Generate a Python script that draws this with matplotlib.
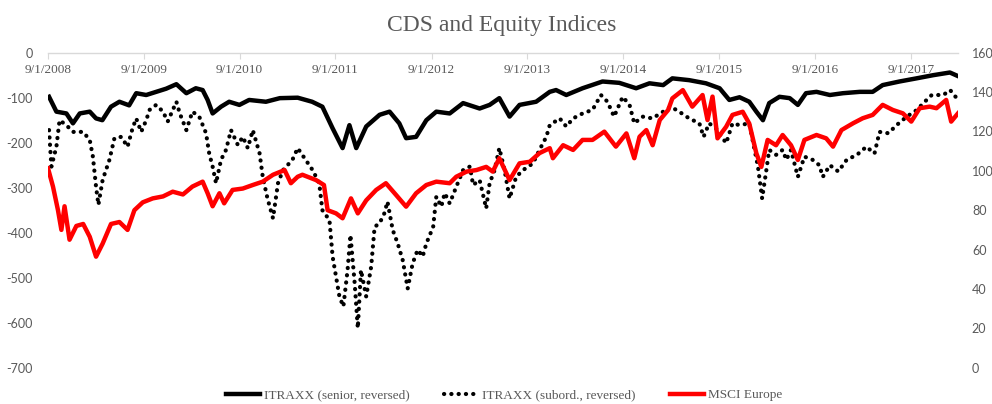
import matplotlib
matplotlib.use("Agg")
import matplotlib.pyplot as plt
import pandas as pd

plt.rcParams["axes.unicode_minus"] = False

senior_dates = ["2008-09-05","2008-10-03","2008-11-10","2008-12-05","2008-12-31","2009-02-07","2009-03-03",
    "2009-03-27","2009-04-29","2009-05-31","2009-07-07","2009-08-03","2009-09-10","2009-10-18","2009-11-25",
    "2010-01-03","2010-02-10","2010-03-18","2010-04-13","2010-05-02","2010-05-21","2010-06-22","2010-07-23",
    "2010-08-31","2010-10-07","2010-12-10","2011-02-01","2011-04-10","2011-06-04","2011-07-13","2011-08-21",
    "2011-09-28","2011-10-24","2011-11-19","2011-12-27","2012-02-16","2012-03-25","2012-05-01","2012-05-27",
    "2012-07-04","2012-08-12","2012-09-19","2012-11-09","2012-12-30","2013-03-03","2013-04-10","2013-05-17",
    "2013-06-25","2013-08-02","2013-10-04","2013-11-25","2013-12-19","2014-01-27","2014-03-30","2014-06-14",
    "2014-08-17","2014-10-20","2014-12-10","2015-01-31","2015-03-07","2015-05-10","2015-07-13","2015-09-03",
    "2015-10-10","2015-11-18","2015-12-25","2016-01-21","2016-02-15","2016-03-10","2016-04-18","2016-05-27",
    "2016-06-27","2016-07-28","2016-09-06","2016-10-27","2016-12-16","2017-02-18","2017-04-08","2017-05-16",
    "2017-07-19","2017-09-22","2017-11-24","2018-01-27","2018-02-27"]
senior_values = [-98,-131,-135,-157,-135,-131,-146,-150,-120,-109,-117,-90,-94,-87,-80,
    -70,-90,-79,-83,-105,-135,-120,-109,-116,-105,-109,-101,-100,-109,-120,-168,
    -212,-161,-212,-164,-138,-131,-157,-190,-187,-150,-131,-135,-112,-124,-116,-101,
    -142,-116,-109,-87,-83,-94,-79,-64,-67,-79,-68,-72,-57,-61,-68,-79,
    -105,-99,-109,-131,-150,-112,-98,-101,-116,-90,-87,-94,-90,-87,-87,-72,
    -64,-57,-50,-44,-52]

subord_dates = ["2008-09-05","2008-09-14","2008-10-03","2008-10-15","2008-11-10","2008-12-05","2009-01-13",
    "2009-02-07","2009-02-19","2009-03-03","2009-03-12","2009-03-28","2009-04-23","2009-05-12","2009-06-07",
    "2009-07-01","2009-07-20","2009-08-03","2009-08-22","2009-09-10","2009-09-23","2009-10-18","2009-11-13",
    "2009-12-01","2010-01-03","2010-01-16","2010-02-10","2010-03-05","2010-03-31","2010-04-26","2010-05-08",
    "2010-05-21","2010-06-03","2010-06-22","2010-07-11","2010-07-30","2010-08-25","2010-09-13","2010-10-02",
    "2010-10-21","2010-11-16","2010-11-28","2010-12-16","2011-01-06","2011-01-25","2011-02-13","2011-03-21",
    "2011-04-10","2011-05-10","2011-06-06","2011-07-01","2011-07-13","2011-08-09","2011-08-21","2011-09-03",
    "2011-09-16","2011-10-01","2011-10-17","2011-10-28","2011-11-13","2011-11-25","2011-12-07","2011-12-27",
    "2012-01-15","2012-01-28","2012-02-16","2012-03-05","2012-03-17","2012-04-06","2012-04-25","2012-05-14",
    "2012-06-02","2012-06-21","2012-07-10","2012-07-29","2012-08-12","2012-09-07","2012-09-19","2012-10-08",
    "2012-10-21","2012-11-09","2012-12-04","2012-12-30","2013-01-25","2013-02-06","2013-03-03","2013-03-28",
    "2013-04-10","2013-04-29","2013-05-17","2013-06-06","2013-06-25","2013-07-20","2013-08-15","2013-09-22",
    "2013-10-17","2013-11-12","2013-11-25","2014-01-02","2014-01-27","2014-02-22","2014-03-30","2014-05-07",
    "2014-06-08","2014-07-03","2014-07-28","2014-08-30","2014-09-25","2014-10-13","2014-11-13","2014-12-21",
    "2015-01-31","2015-03-01","2015-04-02","2015-05-10","2015-06-18","2015-07-04","2015-07-25","2015-08-20",
    "2015-09-28","2015-10-22","2015-11-18","2015-12-25","2016-01-27","2016-02-12","2016-02-28","2016-03-10",
    "2016-04-05","2016-04-30","2016-05-14","2016-06-01","2016-06-27","2016-07-22","2016-08-22","2016-09-17",
    "2016-09-30","2016-10-27","2016-11-28","2016-12-30","2017-02-07","2017-03-15","2017-04-15","2017-05-04",
    "2017-06-07","2017-07-08","2017-08-16","2017-09-24","2017-10-18","2017-11-19","2018-01-02","2018-01-28",
    "2018-02-22"]
subord_values = [-172,-253,-209,-150,-161,-176,-176,
    -194,-231,-298,-338,-283,-238,-190,-187,
    -209,-168,-146,-176,-150,-127,-116,-131,
    -153,-109,-135,-172,-131,-142,-179,-224,
    -253,-290,-238,-216,-172,-205,-187,-212,
    -172,-224,-276,-324,-368,-290,-261,-238,
    -212,-238,-261,-290,-350,-372,-453,-498,
    -542,-564,-483,-405,-512,-612,-483,-542,
    -475,-387,-379,-357,-331,-394,-424,-461,
    -524,-468,-438,-453,-424,-387,-320,-342,
    -312,-335,-298,-261,-253,-294,-283,-346,
    -290,-261,-212,-261,-324,-276,-261,-246,
    -216,-187,-161,-146,-164,-146,-135,-127,
    -94,-109,-142,-98,-116,-157,-142,-146,
    -131,-120,-131,-146,-157,-187,-157,-168,
    -201,-157,-161,-157,-253,-324,-261,-216,
    -227,-216,-238,-216,-276,-231,-238,-250,
    -276,-250,-264,-238,-227,-209,-224,-176,
    -179,-161,-142,-127,-112,-94,-94,-83,
    -101]

msci_dates = ["2008-09-01","2008-09-20","2008-10-09","2008-10-22","2008-11-03","2008-11-22","2008-12-18",
    "2009-01-13","2009-02-07","2009-03-03","2009-03-28","2009-04-29","2009-05-31","2009-07-01","2009-07-27",
    "2009-08-28","2009-10-05","2009-11-13","2009-12-20","2010-01-28","2010-03-05","2010-04-13","2010-05-02",
    "2010-05-21","2010-06-16","2010-07-04","2010-08-05","2010-09-13","2010-10-21","2010-11-28","2011-01-06",
    "2011-02-19","2011-03-15","2011-04-10","2011-04-28","2011-06-19","2011-07-19","2011-08-02","2011-09-03",
    "2011-09-28","2011-10-30","2011-11-25","2011-12-27","2012-02-03","2012-03-11","2012-04-19","2012-05-27",
    "2012-07-04","2012-08-12","2012-09-19","2012-11-09","2012-12-04","2013-01-12","2013-02-19","2013-03-28",
    "2013-04-22","2013-05-17","2013-06-25","2013-08-02","2013-09-10","2013-10-17","2013-11-25","2013-12-07",
    "2014-01-15","2014-02-22","2014-03-30","2014-05-07","2014-06-21","2014-08-04","2014-09-13","2014-10-13",
    "2014-11-02","2014-11-28","2014-12-22","2015-01-18","2015-02-19","2015-03-07","2015-04-16","2015-05-22",
    "2015-06-30","2015-07-19","2015-08-07","2015-08-26","2015-09-28","2015-10-22","2015-11-30","2015-12-25",
    "2016-01-21","2016-02-09","2016-03-04","2016-04-05","2016-04-30","2016-06-01","2016-06-27","2016-07-22",
    "2016-09-06","2016-10-13","2016-11-08","2016-12-10","2017-01-24","2017-03-01","2017-04-08","2017-05-16",
    "2017-06-24","2017-08-01","2017-09-02","2017-10-04","2017-11-11","2017-12-07","2018-01-13","2018-02-01",
    "2018-02-27"]
msci_values = [101.3,92,80,70,82,65,72,
    73,66.5,56.4,63,73,74,70,80,
    84,86,87,89.4,88,92,94.5,88.6,
    82,88.6,83.5,90.3,91,92.8,94.5,98,
    100.4,93.7,97,98,95.3,92.8,80,78.4,
    75.9,86,78.4,85,90.3,93.7,87.7,81.8,
    88.6,92.8,94.5,93.7,97,99.6,100.4,102,
    99.6,106.4,95.3,103.8,104.6,109,111.5,106.4,
    113,110.6,115.7,115.7,119.9,112.3,119,106.4,
    117.3,120.7,113,125.8,130.9,136.8,141,132.6,
    138.5,125.8,137.7,116.5,122.4,128.4,130,124,
    108.9,102,115.7,113,118.2,113,105.5,115.7,
    118.2,116.5,112.3,120.7,124.2,126.7,128.4,133.5,
    130.9,129.2,125,131.8,132.6,131.8,136,125,
    129.2]

left_ticks = [0, -100, -200, -300, -400, -500, -600, -700]
right_ticks = [0, 20, 40, 60, 80, 100, 120, 140, 160]
x_tick_dates = ["2008-09-01","2009-09-01","2010-09-01","2011-09-01","2012-09-01","2013-09-01",
                "2014-09-01","2015-09-01","2016-09-01","2017-09-01"]
x_limits = ["2008-09-01", "2018-02-27"]
title = "CDS and Equity Indices"
labels = ["ITRAXX (senior, reversed)", "ITRAXX (subord., reversed)", "MSCI Europe"]

grey = "#595959"
serif = ["Liberation Serif", "DejaVu Serif"]

fig = plt.figure(figsize=(9.92, 4.04), dpi=100)
ax = fig.add_axes([48/992, 36.3/404, (958-48)/992, 315/404])
ax2 = ax.twinx()

l1, = ax.plot(pd.to_datetime(senior_dates), senior_values, color="black", lw=3.2,
              solid_joinstyle="round", label=labels[0])
l2, = ax.plot(pd.to_datetime(subord_dates), subord_values, color="black", lw=3.0,
              linestyle=(0, (0.05, 1.7)), dash_capstyle="round", label=labels[1])
l3, = ax2.plot(pd.to_datetime(msci_dates), msci_values, color="#ff0000", lw=3.2,
               solid_joinstyle="round", label=labels[2])

ax.set_ylim(-700, 0)
ax2.set_ylim(0, 160)
ax.set_xlim(pd.to_datetime(x_limits[0]), pd.to_datetime(x_limits[1]))
ax.set_yticks(left_ticks)
ax2.set_yticks(right_ticks)

for s in ["top", "left", "right"]:
    ax.spines[s].set_visible(False)
for s in ax2.spines.values():
    s.set_visible(False)
ax.spines["bottom"].set_position(("data", 0))
ax.spines["bottom"].set_color("#d9d9d9")
ax.spines["bottom"].set_linewidth(1.0)

ticks_x = pd.to_datetime(x_tick_dates)
ax.set_xticks(ticks_x)
ax.set_xticklabels([f"{d.month}/{d.day}/{d.year}" for d in ticks_x],
                   fontfamily=serif, fontsize=9.5, color=grey)
ax.tick_params(axis="x", direction="out", length=4, color="#d9d9d9", pad=4)
ax.tick_params(axis="y", length=0, pad=11, labelsize=9, labelcolor=grey)
ax2.tick_params(axis="y", length=0, pad=10, labelsize=9, labelcolor=grey)
for t in ax.get_yticklabels() + ax2.get_yticklabels():
    t.set_fontfamily(["Lato", "DejaVu Sans"])

fig.text(501.5/992, 1 - 30.5/404, title, ha="center", va="baseline",
         fontfamily=serif, fontsize=17, color=grey)

fig.legend(handles=[l1, l2, l3], loc="center", bbox_to_anchor=(504/992, 1 - 395/404),
           ncol=3, frameon=False, handlelength=2.6, handletextpad=0.3, columnspacing=2.6,
           prop={"family": serif, "size": 9.5}, labelcolor=grey)

fig.savefig("out.png", dpi=100)
